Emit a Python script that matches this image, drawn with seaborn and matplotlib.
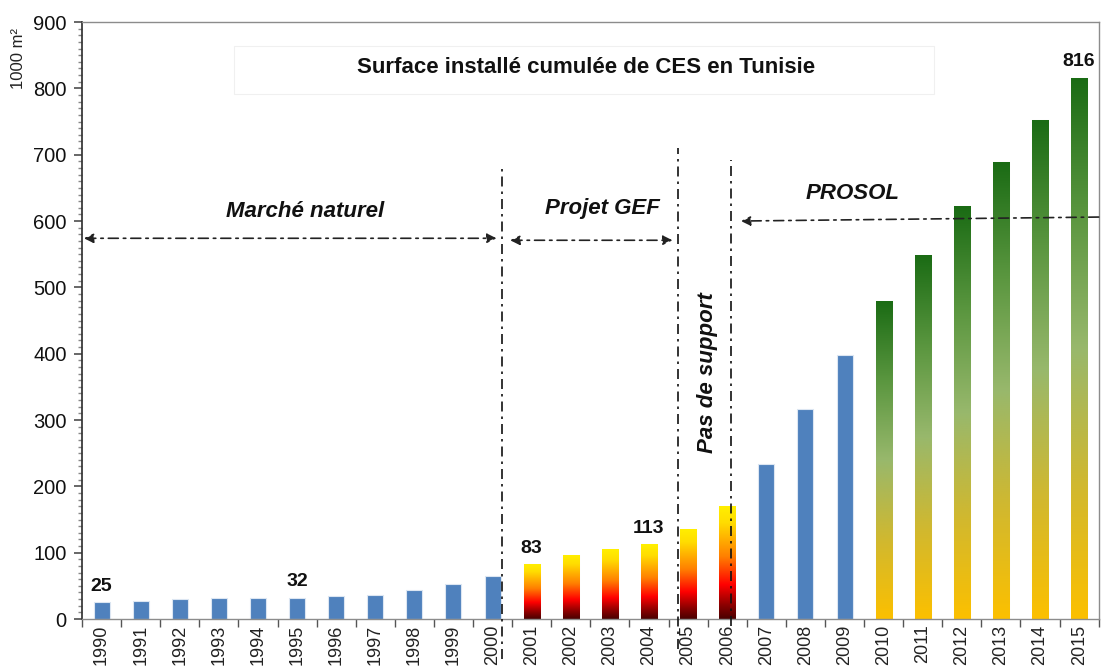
import numpy as np
import pandas as pd
import matplotlib
matplotlib.use("Agg")
import matplotlib.pyplot as plt
from matplotlib.colors import LinearSegmentedColormap
from matplotlib.ticker import MultipleLocator, FixedLocator
import seaborn as sns

years = [str(y) for y in range(1990, 2016)]
values = [25, 27, 30, 31, 31, 32, 34, 36, 44, 53, 65,
          83, 97, 105, 113, 136, 171,
          234, 316, 398,
          480, 549, 622, 689, 752, 816]
groups = ["blue"] * 11 + ["fire"] * 6 + ["blue"] * 3 + ["green"] * 6
labelled = {"1990": "25", "1995": "32", "2001": "83", "2004": "113", "2015": "816"}

title = "Surface installé cumulée de CES en Tunisie"
ylabel = "1000 m²"

sns.set_theme(style="white")
plt.rcParams["font.family"] = ["Liberation Sans", "DejaVu Sans"]

fig = plt.figure(figsize=(11.02, 6.70), dpi=100)
ax = fig.add_axes([0.0744, 0.0761, 0.9226, 0.891])

df = pd.DataFrame({"year": years, "value": values})
sns.barplot(data=df, x="year", y="value", color="#4f81bd", width=0.41,
            saturation=1, edgecolor="#dce6f2", linewidth=0.8, ax=ax, zorder=2)

fire = LinearSegmentedColormap.from_list(
    "fire", [(0.0, "#4a0000"), (0.12, "#8b0000"), (0.3, "#ff0000"),
             (0.55, "#ff8000"), (0.85, "#ffdd00"), (1.0, "#fff000")])
green = LinearSegmentedColormap.from_list(
    "grn", [(0.0, "#fcc000"), (0.25, "#d0b830"), (0.5, "#98b86c"),
            (0.75, "#5a963f"), (1.0, "#1a6b14")])

grad = np.linspace(0, 1, 256).reshape(-1, 1)
for p, g in zip(ax.patches, groups):
    if g == "blue":
        continue
    x0, w, h = p.get_x(), p.get_width(), p.get_height()
    im = ax.imshow(grad, extent=[x0, x0 + w, 0, h], origin="lower",
                   cmap=fire if g == "fire" else green, aspect="auto", zorder=2.5)
    im.set_clip_path(p)
    p.set_edgecolor("#f0f0f0")

ax.set_xlim(-0.5, len(years) - 0.5)
ax.set_ylim(0, 900)
ax.set_aspect("auto")

# bar value labels
for i, (yr, v) in enumerate(zip(years, values)):
    if yr in labelled:
        ax.text(i, v + 11, labelled[yr], ha="center", va="bottom",
                fontsize=14, fontweight="bold", color="#111111", zorder=5)

# axes styling
ax.set_xlabel("")
ax.set_ylabel("")
for s in ["top", "right", "bottom"]:
    ax.spines[s].set_color("#8c8c8c")
    ax.spines[s].set_linewidth(1.0)
ax.spines["left"].set_color("#333333")
ax.yaxis.set_major_locator(MultipleLocator(100))
ax.yaxis.set_minor_locator(MultipleLocator(10))
ax.tick_params(axis="y", which="major", direction="out", length=6, color="#555555",
               labelsize=14.5, labelcolor="#111111", left=True, pad=5)
ax.tick_params(axis="y", which="minor", direction="out", length=3, color="#888888", left=True)
ax.xaxis.set_minor_locator(FixedLocator(np.arange(-0.5, len(years), 1.0)))
ax.tick_params(axis="x", which="major", length=0, labelsize=13, labelcolor="#222222",
               labelrotation=90, pad=4)
ax.tick_params(axis="x", which="minor", direction="out", length=6, color="#555555", bottom=True)

fig.text(0.017, 0.913, ylabel, rotation=90, ha="center", va="center", fontsize=12, color="#222222")

# title inside a faint box
ax.add_patch(plt.Rectangle((3.4, 792), 17.9, 72, fill=False, edgecolor="#f0f0f0",
                           linewidth=0.8, zorder=1))
ax.text(12.4, 832, title, ha="center", va="center", fontsize=16, fontweight="bold",
        color="#111111", zorder=5)

dashdot = (0, (6, 3, 1.5, 3))
# vertical separators
for xv, ytop, ybot in [(10.25, 684, -60), (14.75, 710, -45), (16.1, 692, -10)]:
    ax.plot([xv, xv], [ybot, ytop], color="#111111", lw=1.2, ls=dashdot,
            clip_on=False, zorder=4)

# period arrows
def period_arrow(x1, y1, x2, y2, style):
    ax.annotate("", xy=(x2, y2), xytext=(x1, y1),
                arrowprops=dict(arrowstyle=style, color="#222222", lw=1.2,
                                linestyle=dashdot, mutation_scale=14,
                                shrinkA=0, shrinkB=0),
                annotation_clip=False, zorder=4)

period_arrow(-0.45, 574, 10.1, 574, "<|-|>")
period_arrow(10.45, 571, 14.6, 571, "<|-|>")
period_arrow(25.5, 606, 16.35, 600, "-|>")

txt_kw = dict(fontsize=16, fontweight="bold", fontstyle="italic", color="#111111",
              ha="center", va="center", zorder=5)
ax.text(5.2, 614, "Marché naturel", **txt_kw)
ax.text(12.8, 619, "Projet GEF", **txt_kw)
ax.text(19.2, 642, "PROSOL", **txt_kw)
ax.text(15.5, 372, "Pas de support", rotation=90, **txt_kw)

fig.savefig("out.png", dpi=100)
